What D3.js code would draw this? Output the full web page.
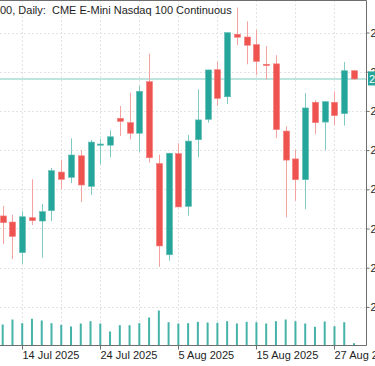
<!DOCTYPE html>
<html>
<head>
<meta charset="utf-8">
<script src="https://cdn.jsdelivr.net/npm/d3@7"></script>
<style>
html,body{margin:0;padding:0;background:#fff;overflow:hidden;}
svg{display:block;font-family:"Liberation Sans",Arial,sans-serif;}
</style>
</head>
<body>
<svg id="chart" width="375" height="366"></svg>
<script>
const dates = ["2025-07-10","2025-07-11","2025-07-14","2025-07-15","2025-07-16","2025-07-17","2025-07-18",
"2025-07-21","2025-07-22","2025-07-23","2025-07-24","2025-07-25","2025-07-28","2025-07-29","2025-07-30","2025-07-31",
"2025-08-01","2025-08-04","2025-08-05","2025-08-06","2025-08-07","2025-08-08","2025-08-11","2025-08-12","2025-08-13",
"2025-08-14","2025-08-15","2025-08-18","2025-08-19","2025-08-20","2025-08-21","2025-08-22","2025-08-25","2025-08-26",
"2025-08-27","2025-08-28","2025-08-29"];
const open  = [22864,22833,22677,22855,22838,22891,23088,23061,23171,23015,23229,23225,23362,23340,23286,23549,
23131,22666,23182,22913,23253,23357,23610,23472,23791,23777,23738,23638,23640,23297,23155,23049,23444,23343,23444,23386,23605];
const high  = [22915,22870,22889,23051,22925,23109,23151,23260,23200,23252,23258,23301,23425,23493,23529,23692,
23177,23186,23235,23277,23510,23610,23651,23800,23927,23857,23813,23731,23684,23321,23202,23491,23454,23448,23500,23649,23607];
const low   = [22721,22644,22619,22818,22651,22838,23000,23031,22935,22971,23128,23163,23272,23255,23189,23136,
22605,22636,22908,22865,23163,23340,23427,23435,23735,23638,23582,23559,23261,22857,22942,22899,23281,23200,23327,23325,23558];
const close = [22830,22760,22860,22840,22886,23095,23051,23175,23022,23241,23231,23268,23347,23286,23500,23161,
22711,23184,22910,23246,23354,23609,23464,23799,23776,23735,23653,23631,23305,23149,23049,23415,23340,23447,23376,23605,23563];
const volume = [420,520,446,534,500,446,414,380,440,486,440,280,406,406,446,560,700,466,440,446,474,460,454,486,
440,474,466,440,486,520,486,440,374,480,386,466,46];
const priceTicks = [22400,22600,22800,23000,23200,23400,23600,23800];
const gridDates = ["2025-07-14","2025-07-18","2025-07-24","2025-07-30","2025-08-05","2025-08-11","2025-08-15","2025-08-21","2025-08-27"];
const labelDates = ["2025-07-14","2025-07-24","2025-08-05","2025-08-15","2025-08-27"];
const dateLabels = ["14 Jul 2025","24 Jul 2025","5 Aug 2025","15 Aug 2025","27 Aug 2025"];
const titleText = "00, Daily:  CME E-Mini Nasdaq 100 Continuous";

const UP = "#26a69a", DOWN = "#ef5350", UPW = "#7fcbc3", DOWNW = "#f5a3a1";
const svg = d3.select("#chart");
const right = 366.5, bottom = 345.5;

const x = d3.scalePoint().domain(dates).range([2.7, 354]);
const y = d3.scaleLinear().domain([22400, 23800]).range([306.9, 32.5]);
const vy = d3.scaleLinear().domain([0, 700]).range([bottom, 310.5]);

// grid
const grid = svg.append("g");
grid.selectAll("line.h").data(priceTicks).enter().append("line")
  .attr("x1", 0).attr("x2", right).attr("y1", d => Math.round(y(d)) + 0.5).attr("y2", d => Math.round(y(d)) + 0.5)
  .attr("stroke", "#e3e3e3").attr("stroke-dasharray", "2,2");
grid.selectAll("line.v").data(gridDates).enter().append("line")
  .attr("x1", d => Math.round(x(d)) + 0.5).attr("x2", d => Math.round(x(d)) + 0.5).attr("y1", 0).attr("y2", bottom)
  .attr("stroke", "#e3e3e3").attr("stroke-dasharray", "2,2");

// volumes
svg.append("g").selectAll("rect").data(dates).enter().append("rect")
  .attr("x", d => x(d) - 1).attr("width", 2)
  .attr("y", (d, i) => vy(volume[i])).attr("height", (d, i) => bottom - vy(volume[i]))
  .attr("fill", UP).attr("opacity", 0.85);

// current price line
const last = close[close.length - 1];
svg.append("line").attr("x1", 0).attr("x2", right).attr("y1", y(last)).attr("y2", y(last))
  .attr("stroke", "#a9dcd6").attr("stroke-width", 1.5);

// candles
const c = svg.append("g").selectAll("g").data(dates).enter().append("g");
c.append("line")
  .attr("x1", d => Math.round(x(d)) + 0.5).attr("x2", d => Math.round(x(d)) + 0.5)
  .attr("y1", (d, i) => y(high[i])).attr("y2", (d, i) => y(low[i]))
  .attr("stroke", (d, i) => close[i] >= open[i] ? UPW : DOWNW).attr("stroke-width", 1);
c.append("rect")
  .attr("x", d => Math.round(x(d)) - 2.5).attr("width", 6)
  .attr("y", (d, i) => y(Math.max(open[i], close[i])))
  .attr("height", (d, i) => Math.max(1.2, Math.abs(y(open[i]) - y(close[i]))))
  .attr("fill", (d, i) => close[i] >= open[i] ? UP : DOWN)
  .attr("stroke", (d, i) => close[i] >= open[i] ? "#5cbdb2" : "#f37a78").attr("stroke-width", 0.6);

// frame
svg.append("path").attr("d", `M0,0.5H${right}V${bottom}H0`).attr("fill", "none").attr("stroke", "#6e6e6e");

// right axis
const ya = svg.append("g").attr("transform", `translate(${right},0)`)
  .call(d3.axisRight(y).tickValues(priceTicks).tickSize(3).tickPadding(1).tickFormat(d3.format(".2f")));
ya.select(".domain").remove();
ya.selectAll("line").attr("stroke", "#6e6e6e");
ya.selectAll("text").attr("font-size", 11).attr("fill", "#1e1e1e").attr("font-family", "Liberation Sans, Arial, sans-serif");

// price label
svg.append("rect").attr("x", 368).attr("y", y(last) - 7.5).attr("width", 40).attr("height", 14).attr("fill", UP);
svg.append("text").attr("x", 369).attr("y", y(last) + 4).attr("fill", "#fff").attr("font-size", 11)
  .text(d3.format(".2f")(last));

// bottom axis
const lblMap = new Map(labelDates.map((d, i) => [d, dateLabels[i]]));
const xa = svg.append("g").attr("transform", `translate(0,${bottom})`)
  .call(d3.axisBottom(x).tickValues(labelDates).tickSize(4).tickPadding(2).tickFormat(d => lblMap.get(d)));
xa.select(".domain").remove();
xa.selectAll(".tick").attr("transform", d => `translate(${Math.round(x(d)) + 0.5},0)`);
xa.selectAll("line").attr("stroke", "#6e6e6e");
xa.selectAll("text").attr("text-anchor", "start").attr("x", 0).attr("font-size", 11).attr("fill", "#1e1e1e")
  .attr("font-family", "Liberation Sans, Arial, sans-serif");

// title
svg.append("text").attr("x", 0).attr("y", 14).attr("font-size", 11).attr("fill", "#1e1e1e")
  .attr("xml:space", "preserve").style("white-space", "pre").text(titleText);
</script>
</body>
</html>
